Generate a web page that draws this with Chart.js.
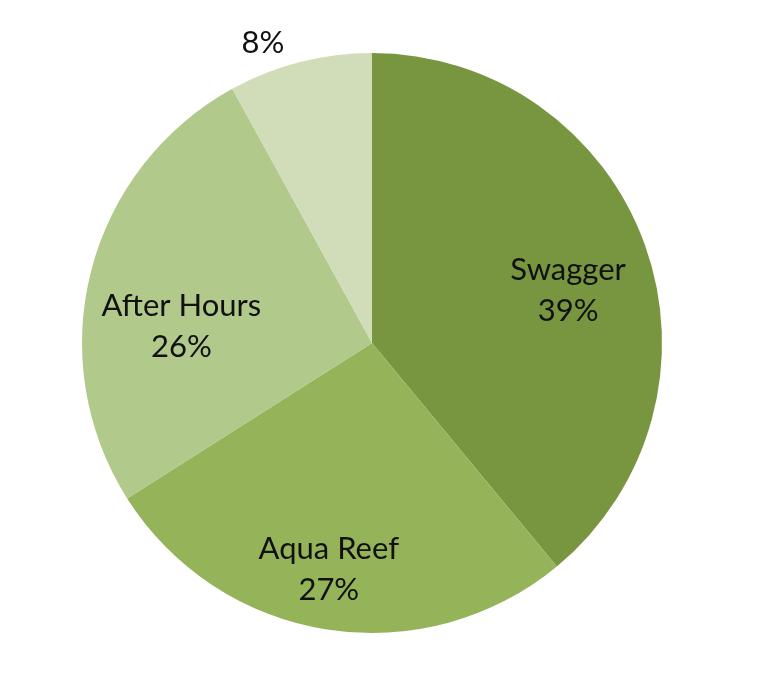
<!DOCTYPE html>
<html>
<head>
<meta charset="utf-8">
<script src="https://cdn.jsdelivr.net/npm/chart.js@4/dist/chart.umd.min.js"></script>
<style>
  html, body { margin: 0; padding: 0; background: #fff; }
  #wrap { width: 761px; height: 680px; position: relative; }
</style>
</head>
<body>
<div id="wrap"><canvas id="pie"></canvas></div>
<script>
// Chart data
const categories = ['Swagger', 'Aqua Reef', 'After Hours', ''];
const shares = [39, 27, 26, 8];
const sliceColors = ['#789640', '#95b45a', '#b1c98b', '#d1ddb9'];

// where each label sits: fraction of radius and angle (deg, clockwise from top)
const labelSpots = [
    { r: 0.70, a: 75 },
    { r: 0.795, a: 190.8 },
    { r: 0.66, a: 275 },
    { r: 1.10, a: 340 }
];

const sliceLabels = {
    id: 'sliceLabels',
    afterDatasetsDraw(chart) {
        const ctx = chart.ctx;
        const arcs = chart.getDatasetMeta(0).data;
        ctx.save();
        ctx.font = '31px Lato, "Open Sans", sans-serif';
        ctx.fillStyle = '#111';
        ctx.textAlign = 'center';
        ctx.textBaseline = 'middle';
        arcs.forEach((arc, i) => {
            const spot = labelSpots[i];
            const ang = (spot.a - 90) * Math.PI / 180;
            const x = arc.x + Math.cos(ang) * arc.outerRadius * spot.r;
            const y = arc.y + Math.sin(ang) * arc.outerRadius * spot.r;
            const pct = shares[i] + '%';
            if (categories[i]) {
                ctx.fillText(categories[i], x, y - 20);
                ctx.fillText(pct, x, y + 21);
            } else {
                ctx.fillText(pct, x, y);
            }
        });
        ctx.restore();
    }
};

new Chart(document.getElementById('pie'), {
    type: 'pie',
    data: {
        labels: categories,
        datasets: [{
            data: shares,
            backgroundColor: sliceColors,
            borderWidth: 0
        }]
    },
    options: {
        responsive: true,
        maintainAspectRatio: false,
        animation: false,
        layout: { padding: { left: 82, right: 99, top: 53, bottom: 47 } },
        plugins: {
            legend: { display: false },
            tooltip: { enabled: false }
        }
    },
    plugins: [sliceLabels]
});
</script>
</body>
</html>
